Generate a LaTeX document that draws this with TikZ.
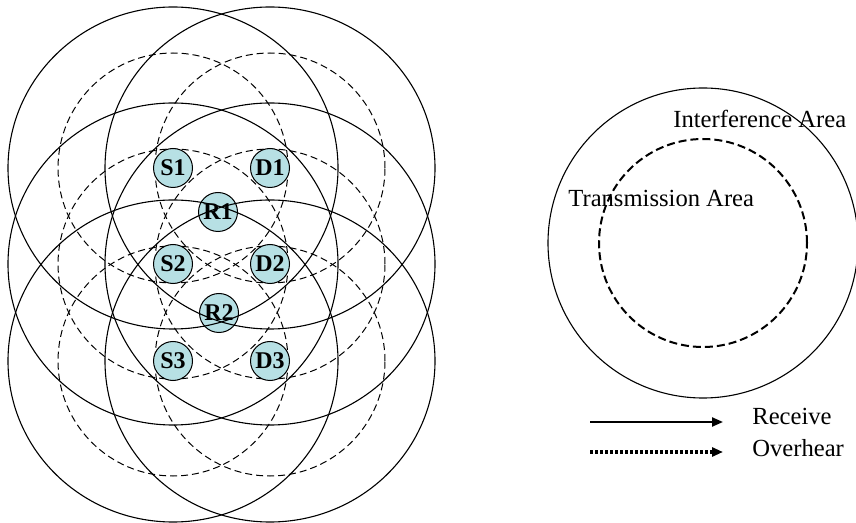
\documentclass[tikz,border=0pt]{standalone}
\usepackage{fontspec}
\setmainfont{Liberation Serif}
\usetikzlibrary{arrows.meta,backgrounds}
\definecolor{stationfill}{RGB}{183,224,228}

\begin{document}
\begin{tikzpicture}[x=0.5pt, y=-0.5pt, >={Triangle[length=5.5pt,width=4.5pt]},
    station/.style={circle, draw, line width=0.5pt, fill=stationfill, minimum size=19.5pt,
                    inner sep=0pt, font=\fontsize{12}{13}\selectfont\bfseries},
    txrange/.style={line width=0.5pt, dash pattern=on 3.5pt off 2pt},
    ifrange/.style={line width=0.55pt},
    label text/.style={inner sep=0pt, anchor=base west, font=\fontsize{12.3}{14}\selectfont}]
    \useasboundingbox (0,0) rectangle (856,523);

    % stations
    \foreach \n/\x/\y in {S1/173/168, D1/270/168, R1/218/212, S2/173/264,
                          D2/270/264, R2/219/313, S3/173/361, D3/270/361} {
        \node[station] (\n) at (\x,\y) {\n};
    }

    % transmission ranges (under the stations)
    \begin{scope}[on background layer]
        \foreach \n in {S1,D1,S2,D2,S3,D3}
            \draw[txrange] (\n.center) circle (57.5pt);
    \end{scope}

    % interference ranges
    \foreach \n in {S1,D1,S2,D2,S3,D3}
        \draw[ifrange] (\n.center) ellipse [x radius=82.5pt, y radius=80.5pt];

    % key
    \coordinate (keyc) at (703,243);
    \draw[ifrange] (keyc) circle (77.5pt);
    \draw[line width=1pt, dash pattern=on 4pt off 2pt] (keyc) circle (52pt);
    \node[label text] (iflabel) at (673,128) {Interference Area};
    \node[label text] (txlabel) at (568,207) {Transmission Area};

    \coordinate (rcvA) at (590,422);
    \coordinate (rcvB) at (723,422);
    \coordinate (ovhA) at (590,452);
    \coordinate (ovhB) at (723,452);
    \draw[->, line width=1.1pt] (rcvA) -- (rcvB);
    \draw[->, line width=1.6pt, dash pattern=on 1.5pt off 1pt] (ovhA) -- (ovhB);
    \node[label text] (rcvlabel) at (752,424) {Receive};
    \node[label text] (ovhlabel) at (752,456) {Overhear};
\end{tikzpicture}
\end{document}
